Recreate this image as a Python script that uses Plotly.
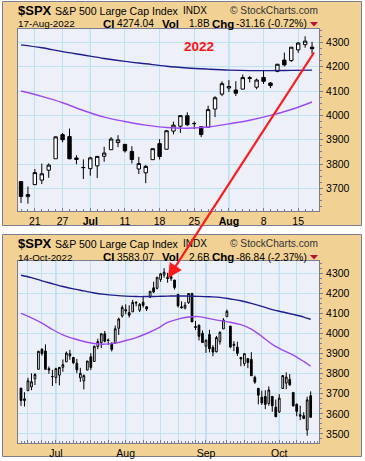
import plotly.graph_objects as go

# ---------------- data (S&P 500 daily, 16-Jun-2022 .. 14-Oct-2022) ----------------
dates = ["2022-06-16","2022-06-17","2022-06-21","2022-06-22","2022-06-23","2022-06-24",
         "2022-06-27","2022-06-28","2022-06-29","2022-06-30","2022-07-01",
         "2022-07-05","2022-07-06","2022-07-07","2022-07-08",
         "2022-07-11","2022-07-12","2022-07-13","2022-07-14","2022-07-15",
         "2022-07-18","2022-07-19","2022-07-20","2022-07-21","2022-07-22",
         "2022-07-25","2022-07-26","2022-07-27","2022-07-28","2022-07-29",
         "2022-08-01","2022-08-02","2022-08-03","2022-08-04","2022-08-05",
         "2022-08-08","2022-08-09","2022-08-10","2022-08-11","2022-08-12",
         "2022-08-15","2022-08-16","2022-08-17","2022-08-18","2022-08-19",
         "2022-08-22","2022-08-23","2022-08-24","2022-08-25","2022-08-26",
         "2022-08-29","2022-08-30","2022-08-31","2022-09-01","2022-09-02",
         "2022-09-06","2022-09-07","2022-09-08","2022-09-09",
         "2022-09-12","2022-09-13","2022-09-14","2022-09-15","2022-09-16",
         "2022-09-19","2022-09-20","2022-09-21","2022-09-22","2022-09-23",
         "2022-09-26","2022-09-27","2022-09-28","2022-09-29","2022-09-30",
         "2022-10-03","2022-10-04","2022-10-05","2022-10-06","2022-10-07",
         "2022-10-10","2022-10-11","2022-10-12","2022-10-13","2022-10-14"]
opens = [3728.18,3665.90,3715.31,3733.89,3774.71,3821.75,
         3920.76,3913.00,3825.09,3785.99,3781.00,
         3792.61,3831.98,3858.85,3888.26,
         3880.94,3851.95,3779.67,3763.99,3818.00,
         3883.79,3860.73,3935.32,3955.47,3998.43,
         3965.72,3953.22,3951.43,4026.13,4087.33,
         4112.38,4104.21,4107.96,4154.85,4115.87,
         4155.93,4133.11,4181.02,4227.40,4225.02,
         4269.37,4290.46,4280.40,4273.13,4266.31,
         4195.08,4133.09,4126.55,4153.26,4198.74,
         4034.58,4041.25,4000.67,3936.73,3994.66,
         3930.89,3909.43,3959.94,4022.94,
         4083.67,4037.12,3940.73,3932.41,3880.95,
         3849.91,3875.23,3871.40,3782.36,3727.14,
         3682.72,3686.44,3651.94,3687.01,3633.48,
         3609.78,3726.46,3753.25,3771.97,3706.74,
         3647.51,3595.86,3590.83,3520.37,3690.41]
highs = [3728.18,3707.71,3779.65,3801.79,3802.58,3913.65,
         3927.72,3945.86,3836.50,3818.99,3829.82,
         3832.19,3870.91,3910.63,3918.50,
         3880.94,3873.41,3829.44,3796.41,3863.62,
         3902.44,3939.81,3974.13,3999.29,4012.44,
         3975.30,3953.22,4039.56,4078.95,4140.15,
         4144.95,4140.47,4167.66,4161.29,4151.58,
         4186.62,4137.30,4211.03,4257.91,4280.47,
         4301.79,4325.28,4302.18,4292.53,4266.31,
         4195.08,4159.77,4156.56,4200.54,4203.04,
         4062.99,4044.98,4015.37,3970.23,4018.43,
         3942.55,3987.89,4010.50,4076.81,
         4119.28,4037.12,3961.94,3959.14,3880.95,
         3900.45,3876.01,3907.07,3790.20,3727.14,
         3715.67,3717.53,3736.74,3687.01,3671.44,
         3698.35,3791.92,3806.91,3797.93,3706.74,
         3652.17,3640.66,3608.34,3685.41,3712.00]
lows = [3639.77,3636.87,3715.31,3717.69,3743.52,3821.75,
        3889.66,3820.14,3799.02,3738.67,3752.10,
        3742.06,3809.37,3858.85,3869.34,
        3847.22,3802.36,3759.07,3721.56,3817.18,
        3818.63,3860.73,3922.03,3927.64,3955.77,
        3943.46,3910.74,3951.43,3992.97,4079.22,
        4096.02,4079.81,4107.96,4135.42,4107.31,
        4128.97,4112.09,4177.26,4201.41,4219.78,
        4256.90,4277.77,4253.08,4261.98,4218.70,
        4129.86,4124.03,4119.97,4147.59,4057.66,
        4017.42,3965.21,3954.53,3903.65,3906.21,
        3886.75,3906.03,3944.81,4022.94,
        4083.67,3926.55,3912.30,3888.28,3837.08,
        3838.50,3827.54,3789.49,3749.45,3647.47,
        3644.76,3623.29,3640.61,3610.40,3584.13,
        3604.93,3726.46,3722.66,3739.22,3636.66,
        3588.10,3568.45,3573.86,3491.58,3579.68]
closes = [3666.77,3674.84,3764.79,3759.89,3795.73,3911.74,
          3900.11,3821.55,3818.83,3785.38,3825.33,
          3831.39,3845.08,3902.62,3899.38,
          3854.43,3818.80,3801.78,3790.38,3863.16,
          3830.85,3936.69,3959.90,3998.95,3961.63,
          3966.84,3921.05,4023.61,4072.43,4130.29,
          4118.63,4091.19,4155.17,4151.94,4145.19,
          4140.06,4122.47,4210.24,4207.27,4280.15,
          4297.14,4305.20,4274.04,4283.74,4228.48,
          4137.99,4128.73,4140.77,4199.12,4057.66,
          4030.61,3986.16,3955.00,3966.85,3924.26,
          3908.19,3979.87,4006.18,4067.36,
          4110.41,3932.69,3946.01,3901.35,3873.33,
          3899.89,3855.93,3789.93,3757.99,3693.23,
          3655.04,3647.29,3719.04,3640.47,3585.62,
          3678.43,3790.93,3783.28,3744.52,3639.66,
          3612.39,3588.84,3577.03,3669.91,3583.07]

# moving averages (trading-day index -> value)
ma_idx = [0, 3, 6, 9, 12, 15, 18, 21, 24, 27, 30, 33, 36, 39, 42, 45, 48, 51, 54, 57,
          60, 63, 66, 69, 72, 75, 78, 81, 83]
ma_long = [4290, 4278, 4262, 4248, 4234, 4222, 4212, 4202, 4195, 4190, 4186, 4184, 4184,
           4185, 4186, 4187, 4186, 4185, 4183, 4180, 4172, 4163, 4150, 4135, 4119, 4107,
           4095, 4082, 4071]
ma_short = [4100, 4078, 4052, 4020, 3993, 3975, 3960, 3950, 3947, 3952, 3965, 3980, 4000,
            4024, 4055, 4072, 4082, 4084, 4074, 4064, 4056, 4044, 4022, 3986, 3946, 3917,
            3893, 3861, 3837]

top_last = 42   # 17-Aug-2022
top_tick_idx = [2, 6, 10, 15, 20, 25, 30, 35, 40]
top_tick_text = ["21", "27", "<b>Jul</b>", "11", "18", "25", "<b>Aug</b>", "8", "15"]
top_month_idx = [10, 30]
bot_tick_idx = [2, 6, 10, 15, 20, 25, 30, 35, 40, 45, 50, 53, 59, 64, 69, 74, 79]
bot_tick_text = ["", "", "Jul", "", "", "", "Aug", "", "", "", "", "Sep", "", "", "", "Oct", ""]
bot_month_idx = [10, 30, 53, 74]
y_top_ticks = [3700, 3800, 3900, 4000, 4100, 4200, 4300]
y_bot_ticks = [3500, 3600, 3700, 3800, 3900, 4000, 4100, 4200, 4300]

W, H = 365, 461
def X(px): return px / W
def Y(py): return 1 - py / H

FONT = "Liberation Sans, Arial, sans-serif"
TAN = "#F1D294"
PLOTBG = "#EEF0F9"
GRID = "#BFE2F0"
MONTHGRID = "#8ECFEA"
FRAME = "#7C7C90"
BLUE = "#1E1E8C"
PURPLE = "#9B4CF0"

idx = list(range(len(dates)))
fig = go.Figure()

def candles(n, xa, ya):
    return go.Candlestick(
        x=idx[:n], open=opens[:n], high=highs[:n], low=lows[:n], close=closes[:n],
        xaxis=xa, yaxis=ya, showlegend=False, whiskerwidth=0,
        increasing=dict(line=dict(color="black", width=1), fillcolor="white"),
        decreasing=dict(line=dict(color="black", width=1), fillcolor="black"),
        hoverinfo="skip")

# top panel
n_top_ma = sum(1 for i in ma_idx if i <= top_last)
fig.add_trace(go.Scatter(x=ma_idx[:n_top_ma], y=ma_long[:n_top_ma], mode="lines",
                         line=dict(color=BLUE, width=1.4, shape="spline"),
                         xaxis="x", yaxis="y", showlegend=False, hoverinfo="skip"))
fig.add_trace(go.Scatter(x=ma_idx[:n_top_ma], y=ma_short[:n_top_ma], mode="lines",
                         line=dict(color=PURPLE, width=1.4, shape="spline"),
                         xaxis="x", yaxis="y", showlegend=False, hoverinfo="skip"))
fig.add_trace(candles(top_last + 1, "x", "y"))

# bottom panel
fig.add_trace(go.Scatter(x=ma_idx, y=ma_long, mode="lines",
                         line=dict(color=BLUE, width=1.4, shape="spline"),
                         xaxis="x2", yaxis="y2", showlegend=False, hoverinfo="skip"))
fig.add_trace(go.Scatter(x=ma_idx, y=ma_short, mode="lines",
                         line=dict(color=PURPLE, width=1.4, shape="spline"),
                         xaxis="x2", yaxis="y2", showlegend=False, hoverinfo="skip"))
fig.add_trace(candles(len(dates), "x2", "y2"))

xdom = [X(18), X(319)]
common_x = dict(showline=True, mirror=True, linecolor=FRAME, linewidth=1,
                showgrid=True, gridcolor=GRID, gridwidth=1, zeroline=False,
                tickmode="array", ticks="inside", ticklen=3, tickcolor=FRAME,
                tickfont=dict(family=FONT, size=10.5, color="black"),
                rangeslider=dict(visible=False), fixedrange=True,
                minor=dict(tickmode="linear", tick0=0, dtick=1, ticks="inside",
                           ticklen=2, tickcolor=FRAME, showgrid=False))
common_y = dict(side="right", showline=True, mirror=True, linecolor=FRAME, linewidth=1,
                showgrid=True, gridcolor=GRID, gridwidth=1, zeroline=False,
                tickmode="array", ticks="outside", ticklen=3, tickcolor=FRAME,
                ticklabelstandoff=1,
                tickfont=dict(family=FONT, size=10.5, color="black"), fixedrange=True,
                minor=dict(tickmode="linear", tick0=0, dtick=25, ticks="outside",
                           ticklen=2, tickcolor=FRAME, showgrid=False))

fig.update_layout(
    width=W, height=H, margin=dict(l=0, r=0, t=0, b=0),
    paper_bgcolor="white", plot_bgcolor="rgba(0,0,0,0)",
    xaxis=dict(common_x, domain=xdom, anchor="y", range=[(18 - 21) / 6.93, (319 - 21) / 6.93],
               tickvals=top_tick_idx, ticktext=top_tick_text),
    yaxis=dict(common_y, domain=[Y(211), Y(29)], anchor="x", range=[3607, 4355],
               tickvals=y_top_ticks, ticktext=[str(v) for v in y_top_ticks]),
    xaxis2=dict(common_x, domain=xdom, anchor="y2", range=[(18 - 21) / 3.49, (319 - 21) / 3.49],
                tickvals=bot_tick_idx, ticktext=bot_tick_text),
    yaxis2=dict(common_y, domain=[Y(443), Y(261)], anchor="x2", range=[3455, 4361],
                tickvals=y_bot_ticks, ticktext=[str(v) for v in y_bot_ticks]),
)

shapes = []
# outer tan panels + plot backgrounds
for (top, bot, ptop, pbot) in [(1.5, 225.5, 29, 211), (234.5, 456.5, 261, 443)]:
    shapes.append(dict(type="rect", xref="paper", yref="paper", layer="below",
                       x0=X(2.5), x1=X(361.5), y0=Y(bot), y1=Y(top),
                       fillcolor=TAN, line=dict(color=FRAME, width=1)))
    shapes.append(dict(type="rect", xref="paper", yref="paper", layer="below",
                       x0=X(18), x1=X(319), y0=Y(pbot), y1=Y(ptop),
                       fillcolor=PLOTBG, line=dict(width=0)))
for m in top_month_idx:
    shapes.append(dict(type="line", xref="x", yref="y domain", layer="below",
                       x0=m, x1=m, y0=0, y1=1, line=dict(color=MONTHGRID, width=1)))
for m in bot_month_idx:
    shapes.append(dict(type="line", xref="x2", yref="y2 domain", layer="below",
                       x0=m, x1=m, y0=0, y1=1, line=dict(color=MONTHGRID, width=1)))
# red down-triangles in headers
for cy in (24, 257):
    shapes.append(dict(type="path", xref="paper", yref="paper",
                       path=f"M {X(310)},{Y(cy-2)} L {X(318)},{Y(cy-2)} L {X(314)},{Y(cy+2.5)} Z",
                       fillcolor="#B8103C", line=dict(width=0)))
fig.update_layout(shapes=shapes)

ann = []
def txt(s, px, py, size, bold=False, color="black"):
    t = f"<b>{s}</b>" if bold else s
    ann.append(dict(text=t, x=X(px), y=Y(py), xref="paper", yref="paper",
                    xanchor="left", yanchor="middle", showarrow=False, borderpad=0,
                    font=dict(family=FONT, size=size, color=color)))

headers = [
    (0, "17-Aug-2022", "4274.04", "1.8B", "-31.16 (-0.72%)"),
    (233, "14-Oct-2022", "3583.07", "2.6B", "-86.84 (-2.37%)"),
]
for dy, d, cl, vol, chg in headers:
    txt("$SPX", 17, 10.7 + dy, 13, bold=True)
    txt("S&amp;P 500 Large Cap Index", 54, 10.7 + dy, 10.6)
    txt("INDX", 182, 10.7 + dy, 10)
    txt("© StockCharts.com", 229, 10.7 + dy, 10.2, color="#333333")
    txt(d, 17, 24 + dy, 9.8)
    txt("Cl", 102, 24 + dy, 11.5, bold=True)
    txt(cl, 116, 24 + dy, 10.2)
    txt("Vol", 161, 24 + dy, 11.5, bold=True)
    txt(vol, 188, 24 + dy, 10)
    txt("Chg", 211, 24 + dy, 11.5, bold=True)
    txt(chg, 235, 24 + dy, 10.2)

txt("2022", 182.5, 46.5, 13.5, bold=True, color="#FF1010")

# red arrow from the 17-Aug candle (top) to the same candle in the bottom chart
ann.append(dict(text="", x=X(168), y=Y(278), xref="paper", yref="paper",
                ax=315 - 168, ay=51 - 278, axref="pixel", ayref="pixel",
                showarrow=True, arrowhead=2, arrowsize=1.3, arrowwidth=2.2,
                arrowcolor="#FF1A1A", standoff=0, startstandoff=0))
fig.update_layout(annotations=ann)

fig.write_html("out.html", config={"displayModeBar": False},
               post_script="document.body.style.margin='0px';document.body.style.padding='0px';")
